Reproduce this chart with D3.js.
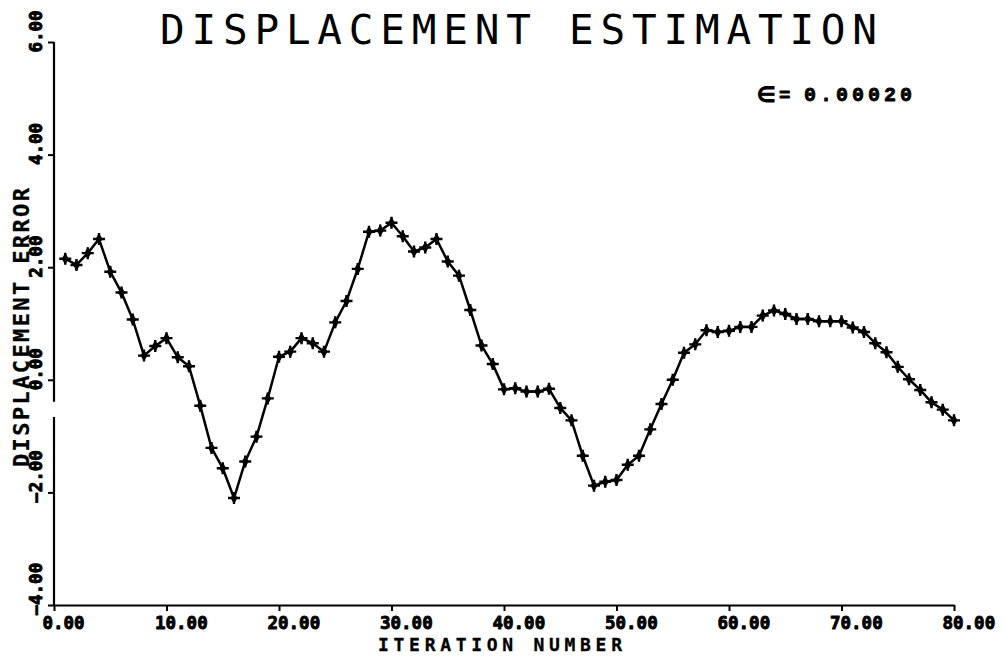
<!DOCTYPE html>
<html>
<head>
<meta charset="utf-8">
<script src="https://cdn.jsdelivr.net/npm/d3@7/dist/d3.min.js"></script>
<style>
  html, body { margin: 0; padding: 0; background: #fff; }
  svg { display: block; }
</style>
</head>
<body>
<svg id="chart" width="1006" height="658"></svg>
<script>
// Displacement error per iteration
const iterations = d3.range(1, 81);
const displacementError = [
  2.15, 2.04, 2.25, 2.50, 1.92, 1.55, 1.07, 0.43, 0.60, 0.74,
  0.40, 0.24, -0.46, -1.21, -1.57, -2.10, -1.45, -1.01, -0.33, 0.41,
  0.50, 0.74, 0.65, 0.50, 1.02, 1.40, 1.97, 2.63, 2.65, 2.79,
  2.55, 2.28, 2.35, 2.50, 2.10, 1.85, 1.24, 0.61, 0.28, -0.17,
  -0.15, -0.21, -0.21, -0.16, -0.50, -0.72, -1.35, -1.88, -1.81, -1.78,
  -1.51, -1.35, -0.88, -0.43, 0.00, 0.48, 0.63, 0.88, 0.85, 0.87,
  0.94, 0.94, 1.14, 1.23, 1.17, 1.08, 1.08, 1.04, 1.04, 1.04,
  0.93, 0.85, 0.65, 0.49, 0.23, 0.01, -0.18, -0.40, -0.53, -0.72
];
const xTicks = [0, 10, 20, 30, 40, 50, 60, 70, 80];
const yTicks = [-4, -2, 0, 2, 4, 6];
const titleText = "DISPLACEMENT ESTIMATION";
const xTitle = "ITERATION NUMBER";
const yTitle = "DISPLACEMENT ERROR";
const epsilonValue = "0.00020";
// short break in the vertical axis line
const yAxisBreak = [-0.66, -0.39];

const svg = d3.select("#chart");
const ink = "#000";

const x = d3.scaleLinear().domain([0, 80]).range([54, 954]);
const y = d3.scaleLinear().domain([-4, 6]).range([605, 42]);

const mono = "'DejaVu Sans Mono', monospace";
const sans = "'DejaVu Sans', sans-serif";

// heavy plotter-style lettering: bold fill plus a thin outline
function heavy(sel, w) {
  return sel.attr("fill", ink).attr("stroke", ink).attr("stroke-width", w)
    .attr("stroke-linejoin", "round");
}

// X axis
const xAxis = svg.append("g")
  .attr("transform", `translate(0,${y(-4)})`)
  .call(d3.axisBottom(x).tickValues(xTicks).tickSize(6).tickSizeOuter(0)
    .tickFormat(d => d3.format(".2f")(d)));
xAxis.select(".domain").attr("stroke", ink).attr("stroke-width", 2.2);
xAxis.selectAll(".tick line").attr("stroke", ink).attr("stroke-width", 2);
heavy(xAxis.selectAll(".tick text")
  .attr("text-anchor", "start")
  .attr("x", -12)
  .attr("y", 0)
  .attr("dy", 0)
  .attr("transform", "translate(0,24)")
  .style("font-family", mono)
  .style("font-weight", "bold")
  .style("font-size", "17.5px"), 0.9);

// Y axis (ticks and labels; line drawn separately)
const yAxis = svg.append("g")
  .attr("transform", `translate(${x(0)},0)`)
  .call(d3.axisLeft(y).tickValues(yTicks).tickSize(6).tickSizeOuter(0)
    .tickFormat(d => d3.format(".2f")(d)));
yAxis.select(".domain").remove();
yAxis.selectAll(".tick line").attr("stroke", ink).attr("stroke-width", 2);
heavy(yAxis.selectAll(".tick text")
  .attr("text-anchor", "start")
  .attr("x", 0)
  .attr("y", 0)
  .attr("dy", 0)
  .attr("transform", "translate(-12,10) rotate(-90)")
  .style("font-family", mono)
  .style("font-weight", "bold")
  .style("font-size", "17.5px"), 0.9);

const ySegments = [[-4, yAxisBreak[0]], [yAxisBreak[1], 6]];
svg.append("g").selectAll("line").data(ySegments).join("line")
  .attr("x1", x(0)).attr("x2", x(0))
  .attr("y1", d => y(d[0])).attr("y2", d => y(d[1]))
  .attr("stroke", ink).attr("stroke-width", 2.2);

// Data line
const pts = iterations.map((it, i) => [it, displacementError[i]]);
svg.append("path")
  .datum(pts)
  .attr("fill", "none")
  .attr("stroke", ink)
  .attr("stroke-width", 2.5)
  .attr("stroke-linejoin", "round")
  .attr("d", d3.line().x(d => x(d[0])).y(d => y(d[1])));

// Markers: plus sign with a solid centre
const markers = svg.append("g").selectAll("g").data(pts).join("g")
  .attr("transform", d => `translate(${x(d[0])},${y(d[1])})`);
markers.append("path")
  .attr("d", "M-6,0H6M0,-6V6")
  .attr("stroke", ink).attr("stroke-width", 2.4);
markers.append("path")
  .attr("d", d3.symbol(d3.symbolDiamond, 42))
  .attr("fill", ink);

// Title
svg.append("text")
  .attr("x", 160).attr("y", 44)
  .attr("textLength", 717).attr("lengthAdjust", "spacing")
  .style("font-family", mono)
  .style("font-size", "41px")
  .attr("fill", ink)
  .text(titleText);

// Axis titles
heavy(svg.append("text")
  .attr("x", 378).attr("y", 651)
  .attr("textLength", 244).attr("lengthAdjust", "spacing")
  .style("font-family", mono)
  .style("font-size", "18px")
  .style("font-weight", "bold")
  .text(xTitle), 0.3);

heavy(svg.append("text")
  .attr("transform", "translate(29,467) rotate(-90)")
  .attr("textLength", 279).attr("lengthAdjust", "spacing")
  .style("font-family", mono)
  .style("font-size", "22px")
  .style("font-weight", "bold")
  .text(yTitle), 0.3);

// Convergence threshold annotation
const eps = svg.append("g");
heavy(eps.append("text")
  .attr("x", 757).attr("y", 102)
  .style("font-family", sans)
  .style("font-size", "21px")
  .style("font-weight", "bold")
  .text("\u2208"), 0.8);
heavy(eps.append("text")
  .attr("x", 779).attr("y", 101)
  .style("font-family", "'Liberation Mono', monospace")
  .style("font-size", "19px")
  .style("font-weight", "bold")
  .text("="), 0.8);
heavy(eps.append("text")
  .attr("x", 804).attr("y", 101)
  .attr("textLength", 108).attr("lengthAdjust", "spacing")
  .style("font-family", "'Liberation Mono', monospace")
  .style("font-size", "20px")
  .style("font-weight", "bold")
  .text(epsilonValue), 0.8);
</script>
</body>
</html>
